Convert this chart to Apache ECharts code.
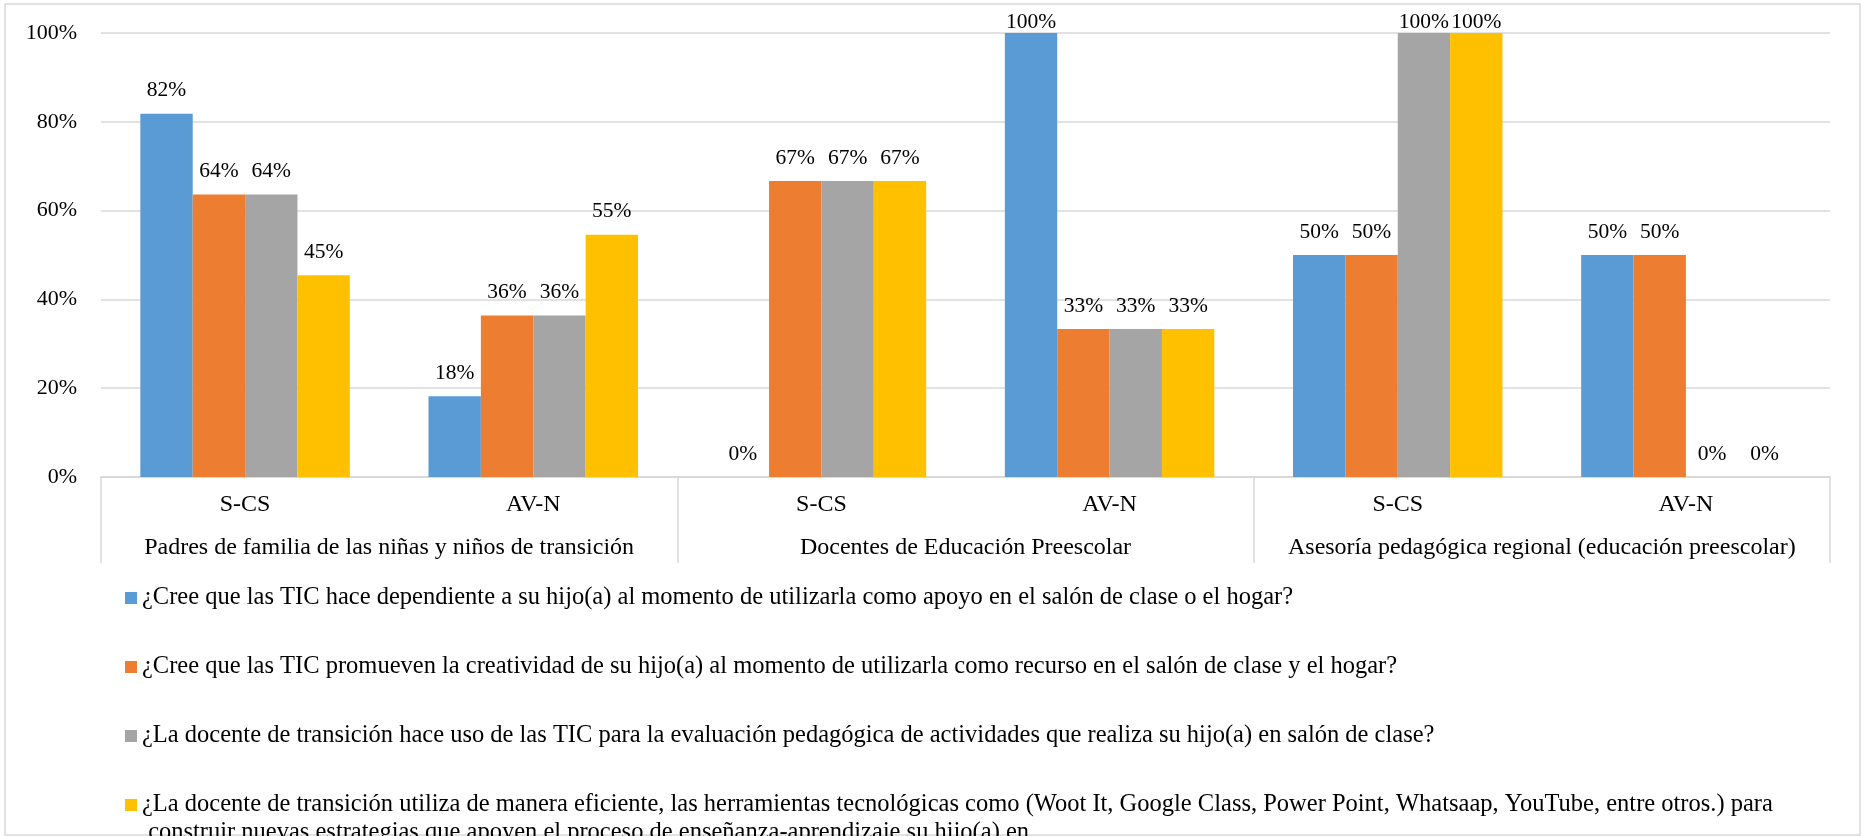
<!DOCTYPE html>
<html>
<head>
<meta charset="utf-8">
<script src="https://cdn.jsdelivr.net/npm/echarts@6/dist/echarts.min.js"></script>
<style>
  html, body { margin: 0; padding: 0; background: #fff; }
  #main { width: 1865px; height: 836px; }
</style>
</head>
<body>
<div id="main"></div>
<script>
var subCategories = ['S-CS', 'AV-N', 'S-CS', 'AV-N', 'S-CS', 'AV-N'];
var groupCategories = [
    'Padres de familia de las niñas y niños de transición',
    'Docentes de Educación Preescolar',
    'Asesoría pedagógica regional (educación preescolar)'
];
var seriesNames = [
    '¿Cree que las TIC hace dependiente a su hijo(a) al momento de utilizarla como apoyo en el salón de clase o el hogar?',
    '¿Cree que las TIC promueven la creatividad de su hijo(a) al momento de utilizarla como recurso en el salón de clase y el hogar?',
    '¿La docente de transición hace uso de las TIC para la evaluación pedagógica de actividades que realiza su hijo(a) en salón de clase?',
    '¿La docente de transición utiliza de manera eficiente, las herramientas tecnológicas como (Woot It, Google Class, Power Point, Whatsaap, YouTube, entre otros.) para construir nuevas estrategias que apoyen el proceso de enseñanza-aprendizaje su hijo(a) en'
];
var dependiente = [0.8182, 0.1818, 0, 1, 0.5, 0.5];
var creatividad = [0.6364, 0.3636, 0.6667, 0.3333, 0.5, 0.5];
var evaluacion = [0.6364, 0.3636, 0.6667, 0.3333, 1, 0];
var herramientas = [0.4545, 0.5455, 0.6667, 0.3333, 1, 0];

var colors = ['#5B9BD5', '#ED7D31', '#A5A5A5', '#FFC000'];
var font = 'Liberation Serif, Times New Roman, serif';

var dom = document.getElementById('main');
var myChart = echarts.init(dom);

function pct(v) {
    return Math.round(v * 100) + '%';
}

function makeSeries(name, values) {
    return {
        name: name,
        type: 'bar',
        barGap: '0%',
        barCategoryGap: '27.3%',
        data: values.map(function (v) {
            // labels at the top of the plot sit down on the bar, as in the original
            if (v >= 1) {
                return { value: v, label: { distance: 0 } };
            }
            return v;
        }),
        label: {
            show: true,
            position: 'top',
            distance: 12,
            color: '#000',
            fontFamily: font,
            fontSize: 21.5,
            formatter: function (p) { return pct(p.value); }
        }
    };
}

var legendText = {
    fontFamily: font,
    fontSize: 24.5,
    color: '#000',
    lineHeight: 28,
    width: 1680,
    overflow: 'break'
};

var option = {
    animation: false,
    color: colors,
    textStyle: { fontFamily: font },
    graphic: [{
        type: 'rect',
        shape: { x: 5, y: 4, width: 1855, height: 831 },
        style: { fill: 'none', stroke: '#d9d9d9', lineWidth: 1.5 },
        z: -1
    }],
    grid: {
        left: 101,
        right: 35,
        top: 33,
        bottom: 359,
        containLabel: false
    },
    legend: [{
        orient: 'vertical',
        left: 120,
        top: 579,
        height: 300,
        itemWidth: 12,
        itemHeight: 12,
        itemGap: 41,
        icon: 'rect',
        data: seriesNames.slice(0, 3),
        textStyle: legendText
    }, {
        // last entry wraps onto two lines; an empty leading line keeps the marker on the first one
        orient: 'vertical',
        left: 120,
        top: 758,
        height: 200,
        itemWidth: 12,
        itemHeight: 12,
        icon: 'rect',
        data: seriesNames.slice(3),
        formatter: function (name) { return '\n' + name; },
        textStyle: legendText
    }],
    xAxis: [{
        type: 'category',
        data: subCategories,
        axisLine: { show: true, lineStyle: { color: '#d9d9d9', width: 1.5 } },
        axisTick: { show: false },
        axisLabel: {
            margin: 16,
            color: '#000',
            fontFamily: font,
            fontSize: 24
        }
    }, {
        type: 'category',
        data: groupCategories,
        position: 'bottom',
        axisLine: { show: true, lineStyle: { color: '#d9d9d9', width: 1.5 } },
        axisTick: { show: true, length: 86, lineStyle: { color: '#d9d9d9', width: 1.5 } },
        axisLabel: {
            interval: 0,
            margin: 59,
            color: '#000',
            fontFamily: font,
            fontSize: 24
        }
    }],
    yAxis: {
        type: 'value',
        min: 0,
        max: 1,
        interval: 0.2,
        axisLine: { show: false },
        axisTick: { show: false },
        splitLine: { lineStyle: { color: '#d9d9d9', width: 1.5 } },
        axisLabel: {
            margin: 24,
            color: '#000',
            fontFamily: font,
            fontSize: 22,
            formatter: function (v) { return pct(v); }
        }
    },
    series: [
        makeSeries(seriesNames[0], dependiente),
        makeSeries(seriesNames[1], creatividad),
        makeSeries(seriesNames[2], evaluacion),
        makeSeries(seriesNames[3], herramientas)
    ]
};

if (option && typeof option === 'object') {
    myChart.setOption(option);
}
</script>
</body>
</html>
